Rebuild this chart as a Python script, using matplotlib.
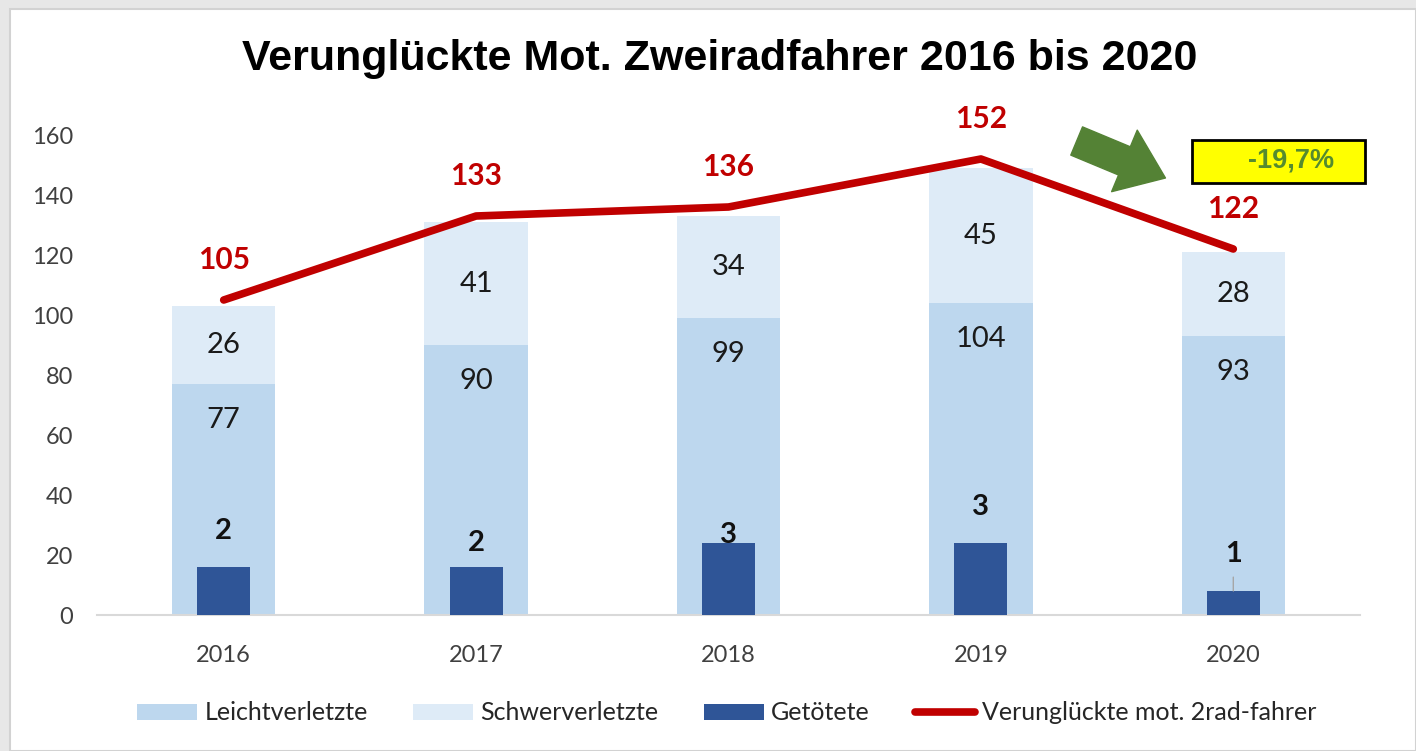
import matplotlib
matplotlib.use("Agg")
import matplotlib.pyplot as plt
from matplotlib.patches import Rectangle
import numpy as np

# ---- data ----
years = ["2016", "2017", "2018", "2019", "2020"]
leicht = [77, 90, 99, 104, 93]
schwer = [26, 41, 34, 45, 28]
getoetet = [2, 2, 3, 3, 1]
gesamt = [105, 133, 136, 152, 122]
change_label = "-19,7%"
# manual label offsets (points) above the Getötete bars
getoetet_label_offsets = [26, 17, 6, 26, 27]

c_leicht = "#bdd7ee"
c_schwer = "#deebf7"
c_tot = "#2f5597"
c_line = "#c00000"
c_tick = "#404040"
num_font = ["Lato", "DejaVu Sans"]

W, H = 1416, 751
fig = plt.figure(figsize=(W / 100, H / 100), dpi=100)
fig.patch.set_facecolor("#e7e7e7")
fig.patches.append(Rectangle((10 / W, 0), 1 - 10 / W, 1 - 9 / H, transform=fig.transFigure,
                             facecolor="white", edgecolor="#d2d2d2", linewidth=1.5, zorder=-10))

ax = fig.add_axes([97.5 / W, (H - 615) / H, 1262 / W, 480 / H])
ax.set_facecolor("none")
x = np.arange(len(years))

b1 = ax.bar(x, leicht, width=0.41, color=c_leicht, label="Leichtverletzte", zorder=2)
b2 = ax.bar(x, schwer, width=0.41, bottom=leicht, color=c_schwer, label="Schwerverletzte", zorder=2)

ax.set_xlim(-0.5, len(years) - 0.5)
ax.set_ylim(0, 160)
ax.set_yticks(np.arange(0, 161, 20))
ax.set_xticks(x)
ax.set_xticklabels(years)
for s in ["top", "right", "left"]:
    ax.spines[s].set_visible(False)
ax.spines["bottom"].set_color("#d9d9d9")
ax.spines["bottom"].set_linewidth(1.5)
ax.tick_params(axis="both", length=0, colors=c_tick, labelsize=17)
ax.tick_params(axis="y", pad=17.5)
ax.tick_params(axis="x", pad=21.5)
for lab in ax.get_xticklabels() + ax.get_yticklabels():
    lab.set_family(num_font)

# segment labels
for i in range(len(years)):
    ax.annotate(str(leicht[i]), (x[i], leicht[i]), xytext=(0, -26), textcoords="offset points",
                ha="center", va="center", fontsize=21, family=num_font, color="#1a1a1a", zorder=5)
    ax.text(x[i], leicht[i] + schwer[i] / 2, str(schwer[i]), ha="center", va="center",
            fontsize=21, family=num_font, color="#1a1a1a", zorder=5)

# secondary axis for Getötete
ax2 = ax.twinx()
ax2.set_ylim(0, 20)
ax2.axis("off")
b3 = ax2.bar(x, getoetet, width=0.21, color=c_tot, label="Getötete", zorder=3)
for i in range(len(years)):
    ax2.annotate(str(getoetet[i]), (x[i], getoetet[i]), xytext=(0, getoetet_label_offsets[i]),
                 textcoords="offset points", ha="center", va="center", fontsize=21,
                 fontweight="bold", family=num_font, color="#111111", zorder=6)
# leader line for last label
ax2.annotate("", (x[-1], getoetet[-1]), xytext=(0, 10), textcoords="offset points",
             arrowprops=dict(arrowstyle="-", color="#a6a6a6", lw=1, shrinkA=0, shrinkB=0))

# total line (on top)
ax3 = ax.twinx()
ax3.set_ylim(0, 160)
ax3.axis("off")
ln, = ax3.plot(x, gesamt, color=c_line, linewidth=5.5, solid_capstyle="round",
               label="Verunglückte mot. 2rad-fahrer", zorder=4, clip_on=False)
for i in range(len(years)):
    ax3.annotate(str(gesamt[i]), (x[i], gesamt[i]), xytext=(0, 29), textcoords="offset points",
                 ha="center", va="center", fontsize=21.5, fontweight="bold", family=num_font,
                 color=c_line, annotation_clip=False)

# green arrow
ax3.annotate("", xy=((1168 - 224) / 253, (615 - 178) / 3), xytext=((1079 - 224) / 253, (615 - 141) / 3),
             arrowprops=dict(arrowstyle="simple,head_length=3.2,head_width=4.8,tail_width=2.2",
                             mutation_scale=10, color="#548235", shrinkA=0, shrinkB=0),
             annotation_clip=False)

# yellow box
bx0, bx1 = (1195 - 224) / 253, (1368 - 224) / 253
by0, by1 = (615 - 183) / 3, (615 - 140) / 3
ax3.add_patch(Rectangle((bx0, by0), bx1 - bx0, by1 - by0, facecolor="#ffff00", edgecolor="black",
                        linewidth=2, clip_on=False, zorder=5))
ax3.text((1294 - 224) / 253, (615 - 161) / 3, change_label, ha="center", va="center", fontsize=19.5,
         fontweight="bold", family=["Liberation Sans", "DejaVu Sans"], color="#558b2f", zorder=6)

# title
fig.text(720 / W, 1 - 59 / H, "Verunglückte Mot. Zweiradfahrer 2016 bis 2020", ha="center", va="center",
         fontsize=31, fontweight="bold", family=["Liberation Sans", "DejaVu Sans"], color="black")

# legend
handles = [b1, b2, b3, ln]
leg = fig.legend(handles, [h.get_label() for h in handles], loc="center", bbox_to_anchor=(727 / W, 1 - 713 / H),
                 ncol=4, frameon=False, prop={"family": num_font, "size": 18},
                 handlelength=2.4, handleheight=0.6, handletextpad=0.3, columnspacing=1.8)
for t in leg.get_texts():
    t.set_color("#262626")

fig.savefig("out.png", dpi=100, facecolor=fig.get_facecolor())
